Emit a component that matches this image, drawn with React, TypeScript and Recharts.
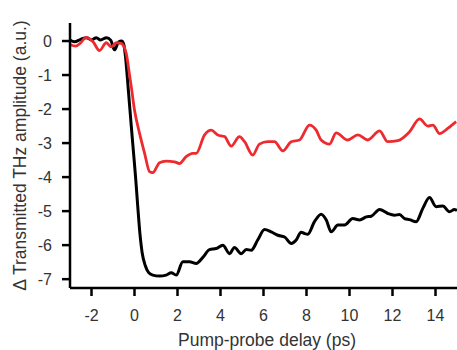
import React from "react";
import { LineChart, Line, XAxis, YAxis, Label } from "recharts";

// pump-probe delay (ps) and ΔT THz amplitude (a.u.)
const delayBlack = [
  -3.0, -2.79, -2.5, -2.23, -2.0, -1.77, -1.58, -1.3, -1.1, -0.93, -0.74, -0.6,
  -0.5, -0.42, -0.33, -0.24, -0.15, -0.05, 0.05, 0.15, 0.25, 0.35, 0.5, 0.65,
  0.85, 1.16, 1.47, 1.71, 1.94, 2.25, 2.56, 2.87, 3.18, 3.49, 3.8, 4.11, 4.42,
  4.65, 4.96, 5.2, 5.43, 5.73, 6.05, 6.36, 6.67, 6.98, 7.29, 7.52, 7.75, 7.91,
  8.06, 8.37, 8.68, 8.92, 9.15, 9.46, 9.77, 10.15, 10.47, 10.78, 11.01, 11.4,
  11.78, 12.09, 12.33, 12.56, 12.79, 13.1, 13.41, 13.72, 14.03, 14.34, 14.65,
  14.88, 15.0,
];
const signalBlack = [
  0.03, -0.02, 0.05, 0.1, 0.03, 0.1, 0.03, 0.1, 0.02, -0.26, -0.03, 0.0, -0.1,
  -0.45, -1.1, -1.8, -2.5, -3.25, -4.0, -4.85, -5.65, -6.2, -6.6, -6.8, -6.88,
  -6.91, -6.88, -6.81, -6.88, -6.49, -6.49, -6.54, -6.36, -6.13, -6.1, -6.0,
  -6.25, -6.07, -6.25, -6.13, -6.15, -5.85, -5.54, -5.61, -5.71, -5.76, -5.95,
  -5.85, -5.62, -5.66, -5.68, -5.31, -5.09, -5.26, -5.61, -5.41, -5.41, -5.22,
  -5.26, -5.17, -5.15, -4.95, -5.07, -5.12, -5.1, -5.22, -5.25, -5.31, -4.92,
  -4.6, -4.87, -4.85, -5.02, -4.95, -4.98,
];

const delayRed = [
  -3.0, -2.74, -2.5, -2.25, -1.93, -1.63, -1.31, -1.08, -0.85, -0.62, -0.39,
  -0.23, -0.15, 0.0, 0.23, 0.47, 0.7, 0.85, 1.08, 1.16, 1.47, 1.86, 2.09, 2.4,
  2.71, 2.87, 3.26, 3.57, 3.87, 4.19, 4.5, 4.88, 5.12, 5.5, 5.81, 6.2, 6.51, 6.9,
  7.29, 7.67, 8.14, 8.45, 8.68, 9.07, 9.38, 9.92, 10.39, 10.85, 11.4, 11.78,
  12.25, 12.79, 13.26, 13.64, 13.88, 14.19, 14.57, 14.96,
];
const signalRed = [
  -0.1, -0.15, -0.05, 0.11, -0.02, -0.28, -0.05, -0.17, -0.05, -0.07, -0.35,
  -1.0, -1.34, -2.03, -2.7, -3.3, -3.84, -3.87, -3.65, -3.58, -3.53, -3.55,
  -3.6, -3.4, -3.3, -3.3, -2.76, -2.62, -2.76, -2.81, -3.09, -2.81, -2.96, -3.35,
  -3.03, -2.96, -2.96, -3.23, -2.96, -2.91, -2.47, -2.62, -2.91, -3.03, -2.7,
  -2.91, -2.76, -2.91, -2.64, -2.96, -2.93, -2.67, -2.29, -2.5, -2.47, -2.72,
  -2.57, -2.37,
];

const xTicks = [-2, 0, 2, 4, 6, 8, 10, 12, 14];
const yTicks = [-7, -6, -5, -4, -3, -2, -1, 0];

const blackData = delayBlack.map((x, i) => ({ x, y: signalBlack[i] }));
const redData = delayRed.map((x, i) => ({ x, y: signalRed[i] }));

const FONT = "'Liberation Sans', Arial, sans-serif";
const TEXT = "#333";

export default function App() {
  return (
    <div style={{ position: "absolute", left: 0, top: 0 }}>
      <LineChart
        width={457}
        height={350}
        margin={{ top: 23, right: 0, bottom: 0, left: 0 }}
      >
        <XAxis
          dataKey="x"
          type="number"
          domain={[-3, 15]}
          ticks={xTicks}
          height={62}
          axisLine={{ stroke: "#000", strokeWidth: 2.5 }}
          tickLine={{ stroke: "#000", strokeWidth: 2.5 }}
          tickSize={8}
          tickMargin={14}
          tick={{ fill: TEXT, fontSize: 16, fontFamily: FONT }}
        >
          <Label
            content={() => (
              <text
                x={267}
                y={346}
                textAnchor="middle"
                fill={TEXT}
                fontSize={17.5}
                fontFamily={FONT}
              >
                Pump-probe delay (ps)
              </text>
            )}
          />
        </XAxis>
        <YAxis
          type="number"
          domain={[-7.26, 0.53]}
          ticks={yTicks}
          width={70}
          axisLine={{ stroke: "#000", strokeWidth: 2.5 }}
          tickLine={{ stroke: "#000", strokeWidth: 2.5 }}
          tickSize={8}
          tickMargin={10}
          tick={{ fill: TEXT, fontSize: 16, fontFamily: FONT }}
        >
          <Label
            content={() => (
              <text
                x={19.5}
                y={155.5}
                transform="rotate(-90 19.5 155.5)"
                textAnchor="middle"
                dominantBaseline="central"
                fill={TEXT}
                fontSize={17.5}
                fontFamily={FONT}
              >
                Δ Transmitted THz amplitude (a.u.)
              </text>
            )}
          />
        </YAxis>
        <Line
          data={blackData}
          dataKey="y"
          type="monotone"
          stroke="#000"
          strokeWidth={3}
          dot={false}
          isAnimationActive={false}
        />
        <Line
          data={redData}
          dataKey="y"
          type="monotone"
          stroke="#ee2a2f"
          strokeWidth={2.8}
          dot={false}
          isAnimationActive={false}
        />
      </LineChart>
    </div>
  );
}
